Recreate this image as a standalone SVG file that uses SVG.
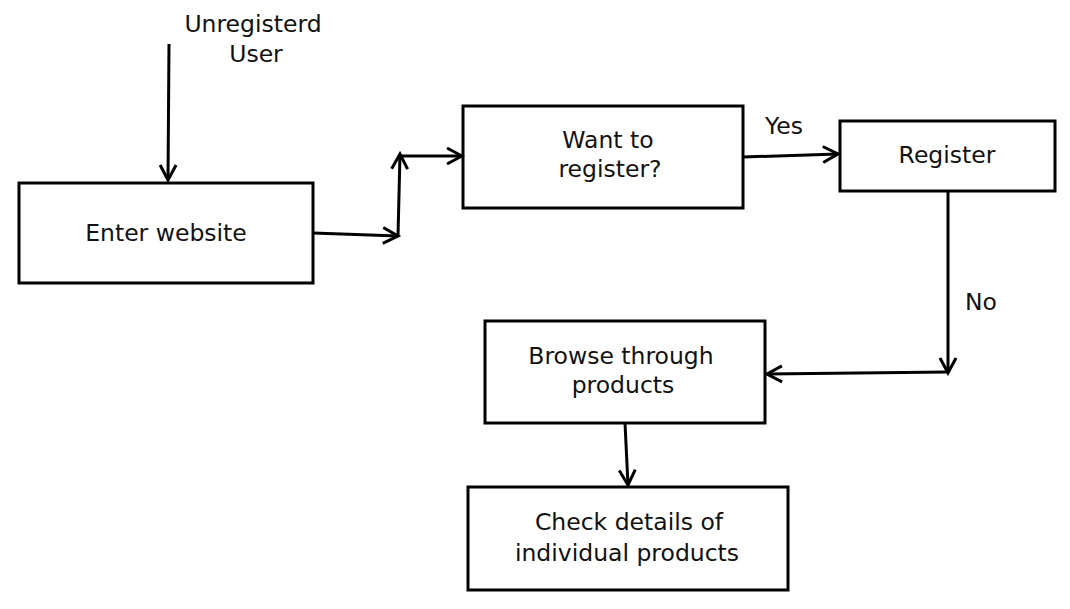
<svg xmlns="http://www.w3.org/2000/svg" width="1070" height="609" viewBox="0 0 1070 609">
<style>
.box{fill:#fff;stroke:#000;stroke-width:3}
.t{font-family:"DejaVu Sans",sans-serif;font-size:23.5px;fill:#111;text-anchor:middle}
.c{fill:none;stroke:#000;stroke-width:3;stroke-linejoin:miter}
</style>
<defs>
<marker id="a" viewBox="0 0 20 20" refX="17" refY="10" markerWidth="20" markerHeight="20" markerUnits="userSpaceOnUse" orient="auto">
<path d="M2,2 L17,10 L2,18" fill="none" stroke="#000" stroke-width="3"/>
</marker>
</defs>
<g id="nodes">
<g id="user"><text class="t" x="253" y="32">Unregisterd</text><text class="t" x="256" y="62">User</text></g>
<g id="enter"><rect class="box" x="19" y="183" width="294" height="100"/><text class="t" x="166" y="241">Enter website</text></g>
<g id="want"><rect class="box" x="463" y="106" width="280" height="102"/><text class="t" x="608" y="148">Want to</text><text class="t" x="610" y="177">register?</text></g>
<g id="register"><rect class="box" x="840" y="121" width="215" height="70"/><text class="t" x="947" y="163">Register</text></g>
<g id="browse"><rect class="box" x="485" y="321" width="280" height="102"/><text class="t" x="621" y="364">Browse through</text><text class="t" x="623" y="393">products</text></g>
<g id="check"><rect class="box" x="468" y="487" width="320" height="103"/><text class="t" x="629" y="530">Check details of</text><text class="t" x="627" y="561">individual products</text></g>
</g>
<g id="connectors">
<line class="c" x1="169" y1="44" x2="168" y2="180" marker-end="url(#a)"/>
<line class="c" x1="313" y1="233" x2="398" y2="236" marker-end="url(#a)"/>
<line class="c" x1="398" y1="236" x2="400" y2="154" marker-end="url(#a)"/>
<line class="c" x1="400" y1="156" x2="462" y2="156" marker-end="url(#a)"/>
<line class="c" x1="743" y1="157" x2="838" y2="154" marker-end="url(#a)"/>
<line class="c" x1="948" y1="191" x2="948" y2="373" marker-end="url(#a)"/>
<line class="c" x1="948" y1="372" x2="767" y2="374" marker-end="url(#a)"/>
<line class="c" x1="625" y1="423" x2="628" y2="485" marker-end="url(#a)"/>
<text class="t" x="784" y="134">Yes</text>
<text class="t" x="981" y="310">No</text>
</g>
</svg>
